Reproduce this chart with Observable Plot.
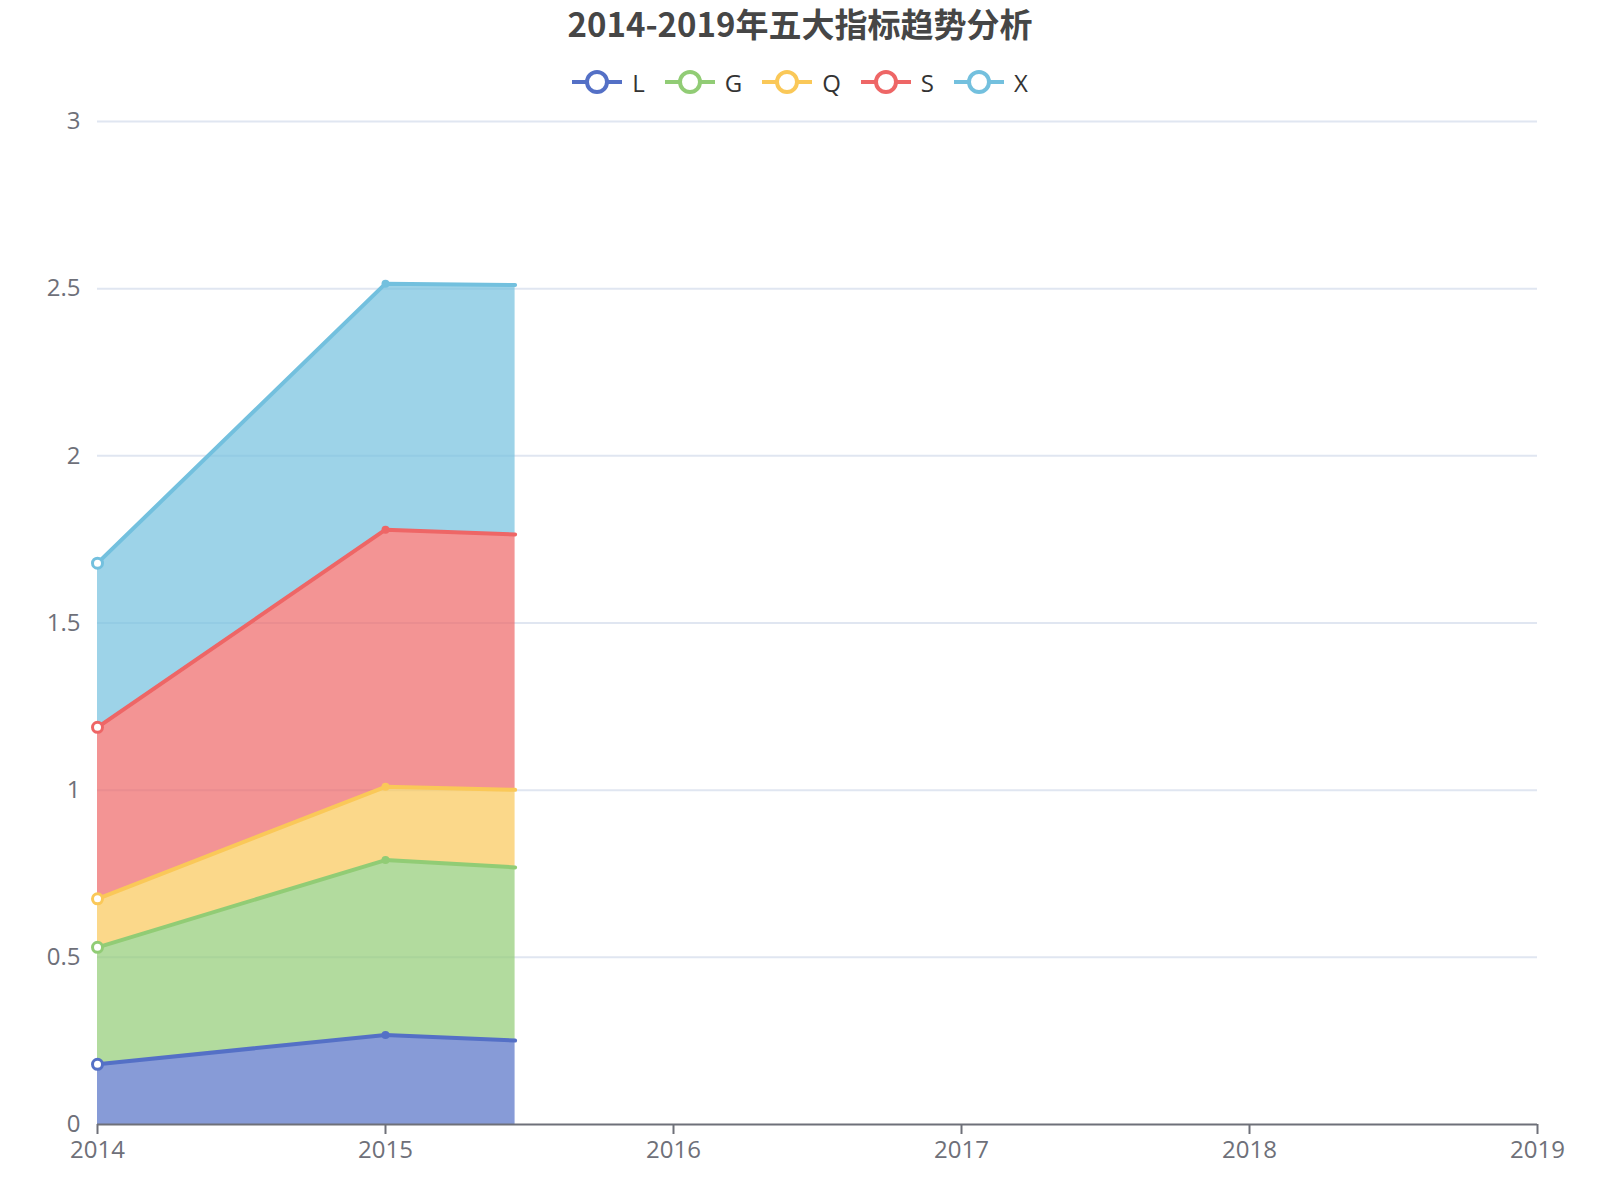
<!DOCTYPE html>
<html>
<head>
<meta charset="utf-8">
<script src="https://cdn.jsdelivr.net/npm/d3@7"></script>
<script src="https://cdn.jsdelivr.net/npm/@observablehq/plot@0.6"></script>
<style>
  html, body { margin: 0; padding: 0; background: #fff; }
  #wrap { position: relative; width: 1600px; height: 1200px; font-family: "Open Sans", "Noto Sans CJK SC", sans-serif; }
  #title { position: absolute; left: 0; width: 1600px; top: 2px; text-align: center;
           font-family: "Noto Sans CJK SC", sans-serif; font-weight: bold; font-size: 33px; color: #464646; line-height: 42px; }
  #legend { position: absolute; left: 0; width: 1600px; top: 64px; height: 36px; display: flex; justify-content: center; align-items: center; }
  .item { display: flex; align-items: center; margin: 0 10px; font-size: 24px; color: #333; }
  .item svg { margin-right: 10px; }
  #chart { position: absolute; left: 0; top: 0; }
</style>
</head>
<body>
<div id="wrap">
  <div id="chart"></div>
  <div id="title">2014-2019年五大指标趋势分析</div>
  <div id="legend"></div>
</div>
<script>
// Data (last point = right edge of the visible area)
const years = [2014, 2015, 2015.45];
const series = ["L", "G", "Q", "S", "X"];
const colors = ["#5470c6", "#91cc75", "#fac858", "#ee6666", "#73c0de"];
const L = [0.180, 0.268, 0.251];
const G = [0.350, 0.523, 0.518];
const Q = [0.145, 0.219, 0.232];
const S = [0.513, 0.769, 0.764];
const X = [0.491, 0.736, 0.746];
const xTicks = [2014, 2015, 2016, 2017, 2018, 2019];
const yTicks = [0, 0.5, 1, 1.5, 2, 2.5, 3];

const values = [L, G, Q, S, X];
const data = series.flatMap((s, k) => years.map((x, i) => ({series: s, x, y: values[k][i], i})));

// legend
const legend = document.getElementById("legend");
series.forEach((s, k) => {
  const item = document.createElement("div");
  item.className = "item";
  item.innerHTML = `<svg width="50" height="28"><line x1="0" x2="50" y1="14" y2="14" stroke="${colors[k]}" stroke-width="4"/>` +
    `<circle cx="25" cy="14" r="10" fill="#fff" stroke="${colors[k]}" stroke-width="4"/></svg><span>${s}</span>`;
  legend.appendChild(item);
});

const common = {x: "x", y: "y", z: "series"};
const chart = Plot.plot({
  width: 1600,
  height: 1200,
  marginTop: 121,
  marginBottom: 76,
  marginLeft: 97,
  marginRight: 63,
  style: {fontSize: "24px", color: "#6E7079", fontFamily: "'Open Sans', 'Noto Sans CJK SC', sans-serif", background: "transparent"},
  x: {type: "linear", domain: [2014, 2019]},
  y: {domain: [0, 3]},
  color: {domain: series, range: colors},
  marks: [
    Plot.gridY(yTicks.slice(1), {stroke: "#E0E6F1", strokeOpacity: 1, strokeWidth: 2}),
    Plot.areaY(data, {...common, fill: "series", fillOpacity: 0.7}),
    Plot.lineY(data, Plot.stackY2({...common, stroke: "series", strokeWidth: 4})),
    Plot.ruleY([0], {stroke: "#6E7079", strokeWidth: 2}),
    Plot.dot(data, Plot.stackY2({...common, filter: d => d.i === 0, stroke: "series", fill: "white", r: 5, strokeWidth: 3})),
    Plot.dot(data, Plot.stackY2({...common, filter: d => d.i === 1, fill: "series", r: 4})),
    Plot.axisX({ticks: xTicks, tickFormat: d => String(d), tickSize: 10, tickPadding: 6, strokeWidth: 2, label: null}),
    Plot.axisY({ticks: yTicks, tickFormat: d => String(d), tickSize: 0, tickPadding: 17, label: null})
  ]
});
document.getElementById("chart").appendChild(chart);
</script>
</body>
</html>
